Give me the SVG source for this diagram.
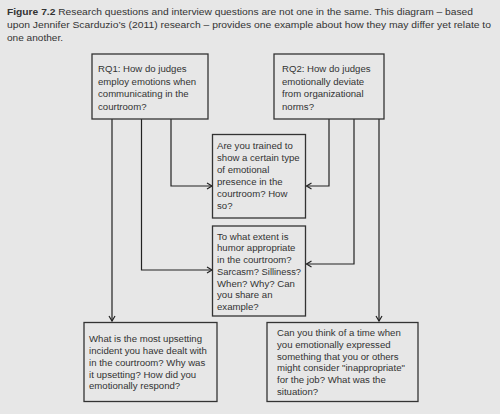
<svg xmlns="http://www.w3.org/2000/svg" width="500" height="414" viewBox="0 0 500 414">
<defs>
<marker id="arr" markerWidth="8" markerHeight="8" refX="6" refY="4" orient="auto" markerUnits="userSpaceOnUse">
<path d="M1,1 L6,4 L1,7" fill="none" stroke="#222" stroke-width="1.2"/>
</marker>
</defs>
<style>
.bg{fill:#e7e7e7}
.box{fill:#e7e7e7;stroke:#333;stroke-width:1.3}
.t{font-family:"Liberation Sans",Arial,sans-serif;font-size:9.6px;fill:#333}
.cap{font-family:"Liberation Sans",Arial,sans-serif;font-size:9.5px;fill:#333}
.c{fill:none;stroke:#222;stroke-width:1.2}
</style>
<rect class="bg" x="0" y="0" width="500" height="414"/>
<g id="caption">
<text class="cap" x="7" y="14.5" textLength="466" lengthAdjust="spacingAndGlyphs"><tspan font-weight="bold">Figure 7.2</tspan>  Research questions and interview questions are not one in the same. This diagram – based</text>
<text class="cap" x="7" y="27.5" textLength="484" lengthAdjust="spacingAndGlyphs">upon Jennifer Scarduzio’s (2011) research – provides one example about how they may differ yet relate to</text>
<text class="cap" x="7" y="40.5" textLength="56" lengthAdjust="spacingAndGlyphs">one another.</text>
</g>
<g id="connectors">
<path class="c" d="M112,119 V321" marker-end="url(#arr)"/>
<path class="c" d="M141.5,119 V270 H212" marker-end="url(#arr)"/>
<path class="c" d="M171,119 V186 H212" marker-end="url(#arr)"/>
<path class="c" d="M329,119 V186 H306.5" marker-end="url(#arr)"/>
<path class="c" d="M354,119 V264 H306.5" marker-end="url(#arr)"/>
<path class="c" d="M379,119 V321" marker-end="url(#arr)"/>
</g>
<g id="rq1">
<rect class="box" x="92" y="54" width="116" height="65"/>
<text class="t"><tspan x="98" y="72">RQ1: How do judges</tspan><tspan x="98" y="84.7">employ emotions when</tspan><tspan x="98" y="97.4">communicating in the</tspan><tspan x="98" y="110">courtroom?</tspan></text>
</g>
<g id="rq2">
<rect class="box" x="274" y="54" width="110" height="65"/>
<text class="t"><tspan x="282" y="72">RQ2: How do judges</tspan><tspan x="282" y="84.7">emotionally deviate</tspan><tspan x="282" y="97.4">from organizational</tspan><tspan x="282" y="110">norms?</tspan></text>
</g>
<g id="q-trained">
<rect class="box" x="212.5" y="134.5" width="93" height="83.5"/>
<text class="t"><tspan x="217" y="148.5">Are you trained to</tspan><tspan x="217" y="160.5">show a certain type</tspan><tspan x="217" y="172.5">of emotional</tspan><tspan x="217" y="184.5">presence in the</tspan><tspan x="217" y="196.5">courtroom? How</tspan><tspan x="217" y="208.5">so?</tspan></text>
</g>
<g id="q-humor">
<rect class="box" x="212.5" y="226" width="93" height="90"/>
<text class="t"><tspan x="217" y="239.5">To what extent is</tspan><tspan x="217" y="251.3">humor appropriate</tspan><tspan x="217" y="263">in the courtroom?</tspan><tspan x="217" y="274.8" textLength="84" lengthAdjust="spacingAndGlyphs">Sarcasm? Silliness?</tspan><tspan x="217" y="286.5">When? Why? Can</tspan><tspan x="217" y="298.3">you share an</tspan><tspan x="217" y="310">example?</tspan></text>
</g>
<g id="q-upsetting">
<rect class="box" x="84" y="322.5" width="133" height="79"/>
<text class="t"><tspan x="89" y="341.8">What is the most upsetting</tspan><tspan x="89" y="353.7">incident you have dealt with</tspan><tspan x="89" y="365.6">in the courtroom? Why was</tspan><tspan x="89" y="377.5">it upsetting? How did you</tspan><tspan x="89" y="389.4">emotionally respond?</tspan></text>
</g>
<g id="q-inappropriate">
<rect class="box" x="267" y="322.5" width="151" height="79"/>
<text class="t"><tspan x="277" y="336">Can you think of a time when</tspan><tspan x="277" y="347.8">you emotionally expressed</tspan><tspan x="277" y="359.6">something that you or others</tspan><tspan x="277" y="371.4">might consider "inappropriate"</tspan><tspan x="277" y="383.2">for the job? What was the</tspan><tspan x="277" y="395">situation?</tspan></text>
</g>
</svg>
